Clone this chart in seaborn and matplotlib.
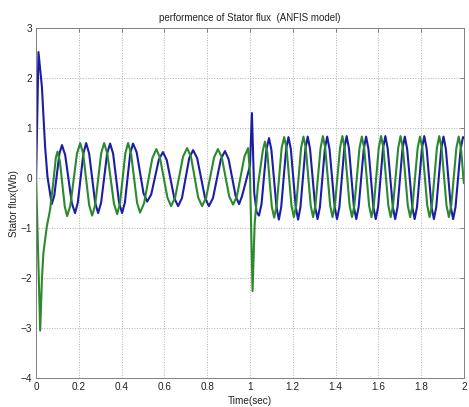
import pandas as pd
import matplotlib
matplotlib.use("Agg")
import matplotlib.pyplot as plt
import seaborn as sns

# valores: tiempo (s) y flujo (Wb)
# traza azul, 0 - 1 s
t_blue_1 = [0.0, 0.011, 0.027, 0.042, 0.053, 0.073,
            0.085, 0.109, 0.121, 0.136, 0.167, 0.182, 0.195, 0.221, 0.234,
            0.248, 0.276, 0.290, 0.304, 0.332, 0.346, 0.360, 0.388, 0.402,
            0.415, 0.440, 0.453, 0.470, 0.502, 0.519, 0.538, 0.574, 0.593,
            0.611, 0.646, 0.664, 0.682, 0.716, 0.734, 0.753, 0.790, 0.808,
            0.827, 0.864, 0.883, 0.900, 0.933, 0.949, 0.963, 0.985]
flux_blue_1 = [0.0, 2.52, 1.83, 0.63, 0.03, -0.52,
               -0.35, 0.49, 0.66, 0.46, -0.50, -0.70, -0.49, 0.49, 0.70,
               0.49, -0.49, -0.70, -0.49, 0.49, 0.69, 0.49, -0.49, -0.70,
               -0.49, 0.49, 0.69, 0.52, -0.30, -0.47, -0.33, 0.37, 0.52,
               0.36, -0.40, -0.56, -0.40, 0.40, 0.56, 0.40, -0.40, -0.56,
               -0.40, 0.38, 0.54, 0.38, -0.36, -0.52, -0.36, 0.0]

# traza azul, 1 - 2 s
t_blue_2 = [1.000, 1.009, 1.020, 1.031, 1.042, 1.054, 1.077, 1.089,
            1.100, 1.124, 1.135, 1.146, 1.169, 1.180, 1.191, 1.214, 1.225,
            1.236, 1.259, 1.270, 1.281, 1.305, 1.316, 1.327, 1.350, 1.361,
            1.372, 1.396, 1.407, 1.418, 1.441, 1.452, 1.463, 1.486, 1.497,
            1.508, 1.532, 1.543, 1.554, 1.577, 1.588, 1.599, 1.622, 1.633,
            1.644, 1.668, 1.679, 1.690, 1.713, 1.724, 1.735, 1.759, 1.770,
            1.781, 1.804, 1.815, 1.826, 1.849, 1.860, 1.871, 1.894, 1.905,
            1.916, 1.939, 1.950, 1.961, 1.985, 1.996, 2.000]
flux_blue_2 = [0.25, 1.30, -0.30, -0.68, -0.75, -0.52, 0.57, 0.80,
               0.57, -0.58, -0.83, -0.58, 0.58, 0.82, 0.58, -0.58, -0.83,
               -0.58, 0.58, 0.83, 0.58, -0.58, -0.82, -0.58, 0.58, 0.83,
               0.58, -0.58, -0.82, -0.58, 0.59, 0.84, 0.59, -0.58, -0.82,
               -0.58, 0.58, 0.83, 0.58, -0.58, -0.82, -0.58, 0.59, 0.84,
               0.59, -0.58, -0.82, -0.58, 0.58, 0.83, 0.58, -0.58, -0.82,
               -0.58, 0.59, 0.84, 0.59, -0.58, -0.82, -0.58, 0.58, 0.83,
               0.58, -0.58, -0.82, -0.58, 0.58, 0.82, 0.81]

# traza verde, 0 - 1 s
t_green_1 = [0.0, 0.019, 0.027, 0.034, 0.050, 0.065, 0.080, 0.092, 0.100,
             0.111, 0.134, 0.145, 0.160, 0.191, 0.206, 0.220, 0.248, 0.262,
             0.276, 0.304, 0.318, 0.333, 0.364, 0.379, 0.392, 0.417, 0.430,
             0.444, 0.472, 0.486, 0.505, 0.543, 0.562, 0.579, 0.614, 0.631,
             0.650, 0.687, 0.706, 0.724, 0.758, 0.776, 0.795, 0.832, 0.850,
             0.868, 0.903, 0.921, 0.939, 0.974, 0.991]
flux_green_1 = [0.0, -3.05, -2.04, -1.50, -0.97, -0.64, -0.10, 0.40, 0.53,
                0.34, -0.57, -0.76, -0.55, 0.49, 0.70, 0.49, -0.54, -0.75,
                -0.54, 0.49, 0.70, 0.49, -0.51, -0.72, -0.51, 0.49, 0.70,
                0.49, -0.49, -0.69, -0.50, 0.39, 0.58, 0.41, -0.39, -0.56,
                -0.39, 0.43, 0.60, 0.43, -0.39, -0.56, -0.39, 0.41, 0.58,
                0.42, -0.37, -0.53, -0.36, 0.43, 0.60]

# traza verde, 1 - 2 s
t_green_2 = [1.000, 1.012, 1.022, 1.037, 1.060, 1.070,
             1.081, 1.102, 1.113, 1.125, 1.148, 1.160, 1.171, 1.194, 1.205,
             1.216, 1.239, 1.250, 1.261, 1.284, 1.295, 1.306, 1.330, 1.341,
             1.352, 1.375, 1.386, 1.397, 1.421, 1.432, 1.443, 1.466, 1.477,
             1.488, 1.512, 1.523, 1.534, 1.557, 1.568, 1.579, 1.602, 1.613,
             1.624, 1.647, 1.658, 1.669, 1.693, 1.704, 1.715, 1.738, 1.749,
             1.760, 1.784, 1.795, 1.806, 1.829, 1.840, 1.851, 1.874, 1.885,
             1.896, 1.919, 1.930, 1.941, 1.965, 1.976, 1.987, 2.000]
flux_green_2 = [0.10, -2.26, -0.90, -0.15, 0.55, 0.73,
                0.51, -0.57, -0.79, -0.55, 0.60, 0.82, 0.60, -0.55, -0.78,
                -0.55, 0.60, 0.83, 0.60, -0.55, -0.78, -0.55, 0.60, 0.84,
                0.60, -0.55, -0.78, -0.55, 0.60, 0.84, 0.60, -0.55, -0.78,
                -0.55, 0.60, 0.83, 0.60, -0.55, -0.78, -0.55, 0.60, 0.84,
                0.60, -0.55, -0.78, -0.55, 0.60, 0.84, 0.60, -0.55, -0.78,
                -0.55, 0.60, 0.83, 0.60, -0.55, -0.78, -0.55, 0.60, 0.84,
                0.60, -0.55, -0.78, -0.55, 0.60, 0.83, 0.58, -0.10]

x_ticks = [0, 0.2, 0.4, 0.6, 0.8, 1, 1.2, 1.4, 1.6, 1.8, 2]
x_labels = ["0", "0.2", "0.4", "0.6", "0.8", "1", "1.2", "1.4", "1.6", "1.8", "2"]
y_ticks = [-4, -3, -2, -1, 0, 1, 2, 3]

df = pd.concat([
    pd.DataFrame({"time": t_blue_1 + t_blue_2, "flux": flux_blue_1 + flux_blue_2, "signal": "a"}),
    pd.DataFrame({"time": t_green_1 + t_green_2, "flux": flux_green_1 + flux_green_2, "signal": "b"}),
], ignore_index=True)

sns.set_style("white")
plt.rcParams["font.family"] = ["Liberation Sans", "DejaVu Sans"]

fig = plt.figure(figsize=(4.69, 4.07), dpi=100)
ax = fig.add_axes([0.077, 0.071, 0.912, 0.860])

ax = sns.lineplot(data=df, x="time", y="flux", hue="signal",
                  palette={"a": "#1c1ca6", "b": "#2b8a2e"},
                  estimator=None, sort=False, legend=False,
                  linewidth=1.5, ax=ax)
for line in ax.get_lines():
    line.set_solid_joinstyle("round")

ax.set_xlim(0, 2)
ax.set_ylim(-4, 3)
ax.set_xticks(x_ticks)
ax.set_xticklabels(x_labels)
ax.set_yticks(y_ticks)
ax.grid(True, linestyle=":", color="#b0b0b0", linewidth=0.7)
ax.tick_params(direction="in", length=3, width=0.6, color="#707070",
               top=True, right=True, labelsize=7.2, labelcolor="#222222", pad=3)
for s in ax.spines.values():
    s.set_color("#808080")
    s.set_linewidth(0.7)

ax.set_title("performence of Stator flux  (ANFIS model)", fontsize=7.0, color="#222222", pad=5)
ax.set_xlabel("Time(sec)", fontsize=7.2, color="#222222", labelpad=3)
ax.set_ylabel("Stator flux(Wb)", fontsize=7.2, color="#222222", labelpad=1)

fig.savefig("out.png", dpi=100)
